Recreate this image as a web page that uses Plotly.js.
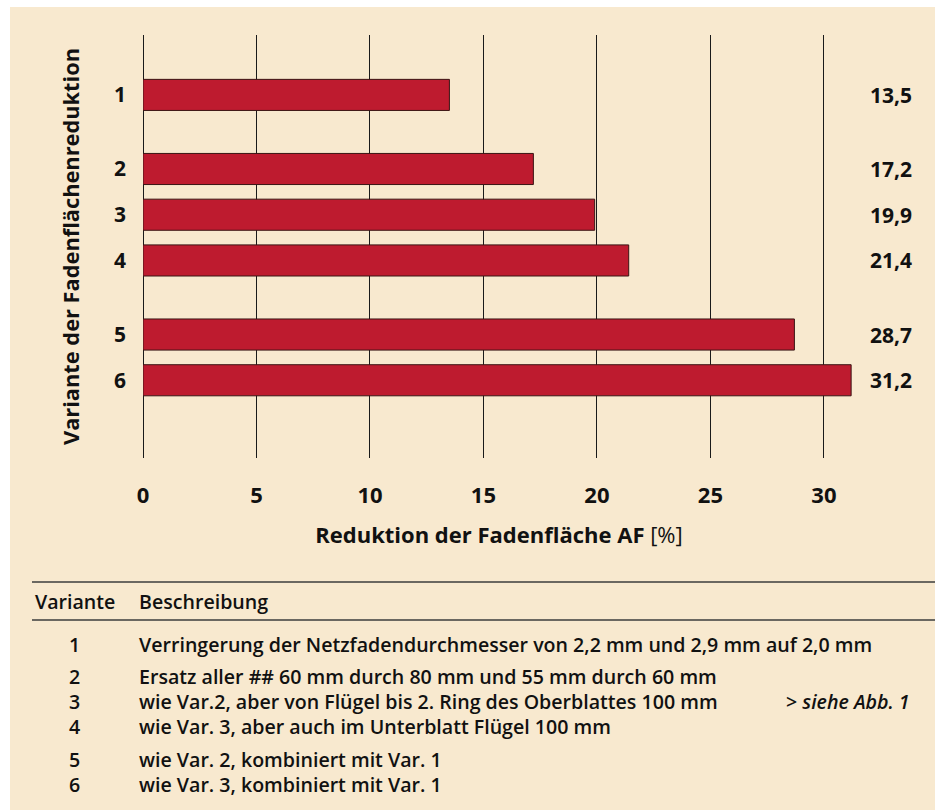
<!DOCTYPE html>
<html>
<head>
<meta charset="utf-8">
<script src="https://cdn.plot.ly/plotly-3.0.1.min.js"></script>
<style>
  html, body { margin: 0; padding: 0; background: #ffffff; }
  #chart { width: 935px; height: 810px; }
</style>
</head>
<body>
<div id="chart"></div>
<script>
// ---- data ----
const variants = ['1', '2', '3', '4', '5', '6'];
const reduction = [13.5, 17.2, 19.9, 21.4, 28.7, 31.2];
const groups = [1, 2, 2, 2, 3, 3];
const xTicks = [0, 5, 10, 15, 20, 25, 30];
const xTickLabels = ['0', '5', '10', '15', '20', '25', '30'];
const tableHeader = ['Variante', 'Beschreibung'];
const descriptions = [
  'Verringerung der Netzfadendurchmesser von 2,2 mm und 2,9 mm auf 2,0 mm',
  'Ersatz aller ## 60 mm durch 80 mm und 55 mm durch 60 mm',
  'wie Var.2, aber von Flügel bis 2. Ring des Oberblattes 100 mm',
  'wie Var. 3, aber auch im Unterblatt Flügel 100 mm',
  'wie Var. 2, kombiniert mit Var. 1',
  'wie Var. 3, kombiniert mit Var. 1'
];
const noteRow = 2;
const noteText = '> <i>siehe Abb. 1</i>';
const xTitle = '<b>Reduktion der Fadenfläche AF</b> [%]';
const yTitle = 'Variante der Fadenflächenreduktion';

// ---- layout helpers ----
const W = 935, H = 810;
const M = { l: 143, r: 80, t: 35, b: 352 };
const PW = W - M.l - M.r, PH = H - M.t - M.b;
const px2x = x => (x - M.l) / PW;
const px2y = y => (H - M.b - y) / PH;

const GROUP_GAP = 0.62;
const pos = variants.map((v, i) => i + GROUP_GAP * (groups[i] - 1));
const fmt = v => v.toFixed(1).replace('.', ',');

const BEIGE = '#f8e9cf';
const RED = '#be1b2f';
const INK = '#111111';
const FONT = '"Open Sans", Lato, sans-serif';
const TFS = 19.6;
const TFW = 600;

const trace = {
  type: 'bar',
  orientation: 'h',
  x: reduction,
  y: pos,
  width: 0.68,
  marker: { color: RED, line: { color: '#3a1414', width: 1 } },
  hoverinfo: 'x+text',
  text: variants,
  textposition: 'none'
};

const annotations = [];
// value labels
reduction.forEach((v, i) => {
  annotations.push({
    xref: 'paper', yref: 'y', x: px2x(914), y: pos[i],
    xanchor: 'right', yanchor: 'middle', showarrow: false,
    text: fmt(v),
    font: { family: FONT, size: 21, color: INK, weight: 700 }
  });
});
// table header
annotations.push({
  xref: 'paper', yref: 'paper', x: px2x(33), y: px2y(601),
  xanchor: 'left', yanchor: 'middle', showarrow: false,
  text: tableHeader[0], font: { family: FONT, size: TFS, color: INK, weight: TFW }
});
annotations.push({
  xref: 'paper', yref: 'paper', x: px2x(137), y: px2y(601),
  xanchor: 'left', yanchor: 'middle', showarrow: false,
  text: tableHeader[1], font: { family: FONT, size: TFS, color: INK, weight: TFW }
});
// table rows
descriptions.forEach((d, i) => {
  const ry = 644 + 25 * i + 7.5 * (groups[i] - 1);
  annotations.push({
    xref: 'paper', yref: 'paper', x: px2x(74), y: px2y(ry),
    xanchor: 'center', yanchor: 'middle', showarrow: false,
    text: variants[i], font: { family: FONT, size: TFS, color: INK, weight: TFW }
  });
  annotations.push({
    xref: 'paper', yref: 'paper', x: px2x(137), y: px2y(ry),
    xanchor: 'left', yanchor: 'middle', showarrow: false,
    text: d, font: { family: FONT, size: TFS, color: INK, weight: TFW }
  });
  if (i === noteRow) {
    annotations.push({
      xref: 'paper', yref: 'paper', x: px2x(912), y: px2y(ry),
      xanchor: 'right', yanchor: 'middle', showarrow: false,
      text: noteText, font: { family: FONT, size: TFS, color: INK, weight: TFW }
    });
  }
});

const shapes = [
  { type: 'rect', xref: 'paper', yref: 'paper', layer: 'below',
    x0: px2x(10), x1: px2x(W), y0: px2y(7), y1: px2y(H),
    fillcolor: BEIGE, line: { width: 0 } },
  { type: 'line', xref: 'paper', yref: 'paper',
    x0: px2x(32), x1: px2x(W), y0: px2y(582), y1: px2y(582),
    line: { color: '#3c3c3c', width: 1.5 } },
  { type: 'line', xref: 'paper', yref: 'paper',
    x0: px2x(32), x1: px2x(W), y0: px2y(620), y1: px2y(620),
    line: { color: '#3c3c3c', width: 1.5 } }
];

const layout = {
  width: W, height: H,
  margin: M,
  paper_bgcolor: '#ffffff',
  plot_bgcolor: 'rgba(0,0,0,0)',
  showlegend: false,
  font: { family: FONT, color: INK },
  xaxis: {
    range: [0, 31.37],
    tickvals: xTicks, ticktext: xTickLabels,
    showgrid: true, gridcolor: '#1a1a1a', gridwidth: 1.3,
    zeroline: true, zerolinecolor: '#1a1a1a', zerolinewidth: 1.3,
    showline: false, ticks: '',
    ticklabelstandoff: 22,
    tickfont: { family: FONT, size: 22, color: INK, weight: 700 },
    title: { text: xTitle, standoff: 19, font: { family: FONT, size: 22, color: INK } },
    fixedrange: true
  },
  yaxis: {
    range: [pos[pos.length - 1] + 1.7, -1.31],
    tickvals: pos, ticktext: variants,
    showgrid: false, zeroline: false, showline: false, ticks: '',
    ticklabelstandoff: 16,
    tickfont: { family: FONT, size: 21, color: INK, weight: 700 },
    title: { text: yTitle, standoff: 28, font: { family: FONT, size: 21.8, color: INK, weight: 700 } },
    fixedrange: true
  },
  annotations: annotations,
  shapes: shapes
};

Plotly.newPlot('chart', [trace], layout, { displayModeBar: false });
</script>
</body>
</html>
